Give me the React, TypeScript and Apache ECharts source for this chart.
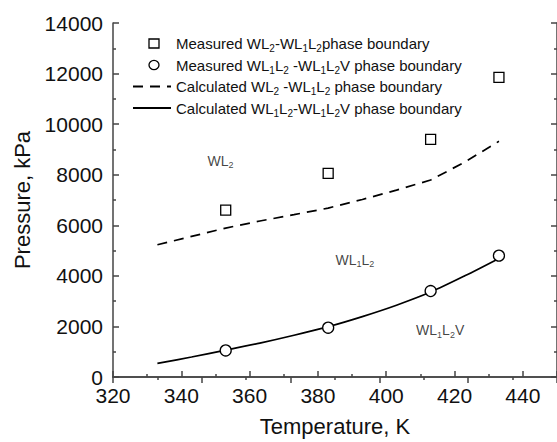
import React, { useEffect, useRef } from "react";
import * as echarts from "echarts";

const FONT = "'Liberation Sans', Arial, sans-serif";

// Measured WL2-WL1L2 boundary (squares)
const measuredUpperT = [353, 383, 413, 433];
const measuredUpperP = [6600, 8050, 9400, 11850];
// Measured WL1L2-WL1L2V boundary (circles)
const measuredLowerT = [353, 383, 413, 433];
const measuredLowerP = [1050, 1950, 3400, 4800];
// Calculated WL2-WL1L2 boundary (dashed)
const calcUpperT = [333, 343, 353, 363, 373, 383, 393, 403, 413, 423, 433];
const calcUpperP = [5230, 5560, 5890, 6170, 6420, 6680, 7020, 7390, 7790, 8500, 9320];
// Calculated WL1L2-WL1L2V boundary (solid)
const calcLowerT = [333, 343, 353, 363, 373, 383, 393, 403, 413, 423, 433];
const calcLowerP = [540, 790, 1060, 1340, 1650, 1990, 2390, 2840, 3360, 4000, 4690];

// Region annotations
const regionNames = ["WL2", "WL1L2", "WL1L2V"];
const regionT = [347.5, 385, 408.6];
const regionP = [8560, 4640, 1850];

const seriesNames = [
  "Measured WL2-WL1L2 phase boundary",
  "Measured WL1L2 -WL1L2V phase boundary",
  "Calculated WL2 -WL1L2 phase boundary",
  "Calculated WL1L2-WL1L2V phase boundary",
];
const legendRich: Record<string, string> = {
  [seriesNames[0]]: "{n|Measured WL}{s|2}{n|-WL}{s|1}{n|L}{s|2}{n|phase boundary}",
  [seriesNames[1]]: "{n|Measured WL}{s|1}{n|L}{s|2}{n| -WL}{s|1}{n|L}{s|2}{n|V phase boundary}",
  [seriesNames[2]]: "{n|Calculated WL}{s|2}{n| -WL}{s|1}{n|L}{s|2}{n| phase boundary}",
  [seriesNames[3]]: "{n|Calculated WL}{s|1}{n|L}{s|2}{n|-WL}{s|1}{n|L}{s|2}{n|V phase boundary}",
};
const regionRich: Record<string, string> = {
  WL2: "{n|WL}{s|2}",
  WL1L2: "{n|WL}{s|1}{n|L}{s|2}",
  WL1L2V: "{n|WL}{s|1}{n|L}{s|2}{n|V}",
};

// legend icons: 38x10 bounding box (anchored by move-to corners), symbol drawn near the middle
const squareIcon = "path://M0,0M38,10M16,0.5H26V9.5H16Z";
const circleIcon = "path://M0,0M38,10M16,5A5,4.6 0 1,1 26,5A5,4.6 0 1,1 16,5Z";

const zip = (a: number[], b: number[]) => a.map((v, i) => [v, b[i]]);

export default function App() {
  const ref = useRef<HTMLDivElement>(null);
  useEffect(() => {
    document.body.style.margin = "0";
    if (!ref.current) return;
    const chart = echarts.init(ref.current, null, { renderer: "svg" });
    const axisLine = { show: true, lineStyle: { color: "#444", width: 1.5 } };
    const tickStyle = { color: "#444", width: 1.5 };
    const hollow = { color: "rgba(0,0,0,0)", borderColor: "#000", borderWidth: 1.3, opacity: 1 };
    const hollowMark = { color: "#fff", borderColor: "#000", borderWidth: 1.3, opacity: 1 };
    chart.setOption({
      animation: false,
      backgroundColor: "#fff",
      textStyle: { fontFamily: FONT },
      grid: { left: 113, right: 0, top: 23, bottom: 63 },
      legend: {
        data: [
          { name: seriesNames[0], icon: squareIcon, itemStyle: hollow },
          { name: seriesNames[1], icon: circleIcon, itemStyle: hollow },
          { name: seriesNames[2], itemStyle: { opacity: 0 } },
          { name: seriesNames[3], itemStyle: { opacity: 0 } },
        ],
        orient: "vertical",
        left: 127,
        top: 31,
        itemWidth: 38,
        itemHeight: 10,
        itemGap: 4,
        align: "left",
        selectedMode: false,
        formatter: (name: string) => legendRich[name] || name,
        textStyle: {
          rich: {
            n: { fontSize: 15, fontFamily: FONT, color: "#111", lineHeight: 20 },
            s: { fontSize: 10, fontFamily: FONT, color: "#111", lineHeight: 10, verticalAlign: "bottom" },
          },
        },
      },
      xAxis: [
        {
          type: "value",
          min: 320,
          max: 450,
          interval: 20,
          name: "Temperature, K",
          nameLocation: "middle",
          nameGap: 38,
          nameTextStyle: { fontSize: 22, color: "#111", fontFamily: FONT },
          axisLine,
          axisTick: { show: true, inside: true, length: 6, lineStyle: tickStyle },
          minorTick: { show: true, splitNumber: 2, length: 3, lineStyle: tickStyle },
          axisLabel: { fontSize: 21, color: "#111", margin: 8, fontFamily: FONT, showMaxLabel: false, formatter: (v: number) => String(v) },
          splitLine: { show: false },
        },
        {
          type: "value",
          position: "top",
          min: 0,
          max: 10,
          interval: 2,
          axisLine,
          axisTick: { show: true, inside: true, length: 6, lineStyle: tickStyle },
          minorTick: { show: true, splitNumber: 2, length: 3, lineStyle: tickStyle },
          axisLabel: { show: false },
          splitLine: { show: false },
        },
      ],
      yAxis: [
        {
          type: "value",
          min: 0,
          max: 14000,
          interval: 2000,
          name: "Pressure, kPa",
          nameLocation: "middle",
          nameGap: 76,
          nameTextStyle: { fontSize: 22, color: "#111", fontFamily: FONT },
          axisLine,
          axisTick: { show: true, inside: true, length: 6, lineStyle: tickStyle },
          minorTick: { show: true, splitNumber: 2, length: 3, lineStyle: tickStyle },
          axisLabel: { fontSize: 21, color: "#111", margin: 10, fontFamily: FONT, formatter: (v: number) => String(v) },
          splitLine: { show: false },
        },
        {
          type: "value",
          position: "right",
          min: 0,
          max: 14000,
          interval: 2000,
          axisLine,
          axisTick: { show: true, inside: true, length: 6, lineStyle: tickStyle },
          minorTick: { show: true, splitNumber: 2, length: 3, lineStyle: tickStyle },
          axisLabel: { show: false },
          splitLine: { show: false },
        },
      ],
      series: [
        {
          name: seriesNames[2],
          type: "line",
          data: zip(calcUpperT, calcUpperP),
          symbol: "none",
          lineStyle: { color: "#000", width: 1.7, type: [10, 7] },
          itemStyle: { color: "#000" },
          z: 2,
        },
        {
          name: seriesNames[3],
          type: "line",
          data: zip(calcLowerT, calcLowerP),
          symbol: "none",
          smooth: 0.3,
          lineStyle: { color: "#000", width: 1.7 },
          itemStyle: { color: "#000" },
          z: 2,
        },
        {
          name: seriesNames[0],
          type: "scatter",
          data: zip(measuredUpperT, measuredUpperP),
          symbol: "rect",
          symbolSize: 10,
          itemStyle: hollowMark,
          z: 3,
        },
        {
          name: seriesNames[1],
          type: "scatter",
          data: zip(measuredLowerT, measuredLowerP),
          symbol: "circle",
          symbolSize: 11,
          itemStyle: hollowMark,
          z: 3,
        },
        {
          name: "regions",
          type: "scatter",
          data: regionNames.map((n, i) => ({ name: n, value: [regionT[i], regionP[i]] })),
          symbolSize: 1,
          itemStyle: { color: "rgba(0,0,0,0)" },
          silent: true,
          label: {
            show: true,
            position: "right",
            distance: 0,
            formatter: (p: any) => regionRich[p.name],
            rich: {
              n: { fontSize: 14, fontFamily: FONT, color: "#111", lineHeight: 18 },
              s: { fontSize: 9, fontFamily: FONT, color: "#111", lineHeight: 9, verticalAlign: "bottom" },
            },
          },
        },
      ],
    });
    return () => chart.dispose();
  }, []);
  return <div ref={ref} style={{ width: 557, height: 442 }} />;
}
